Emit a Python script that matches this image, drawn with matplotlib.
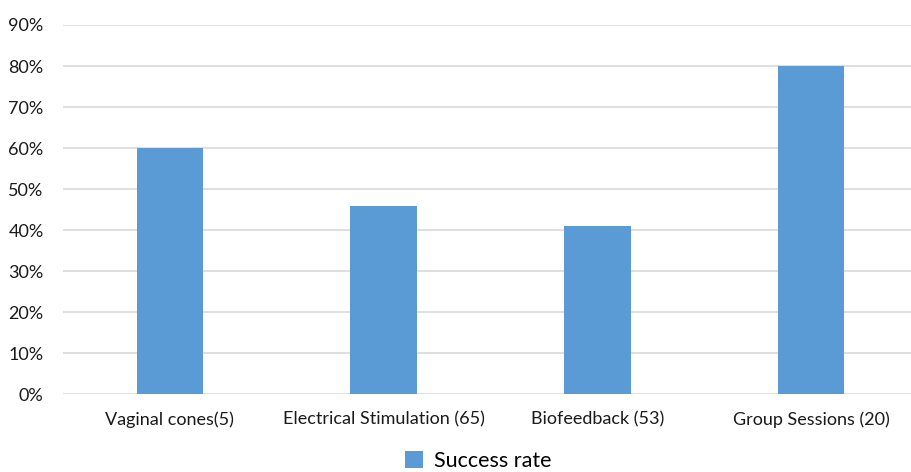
import matplotlib.pyplot as plt
import matplotlib
from matplotlib.ticker import PercentFormatter

# Success rate per treatment (number of patients in brackets)
categories = ["Vaginal cones(5)", "Electrical Stimulation (65)", "Biofeedback (53)", "Group Sessions (20)"]
success_rate = [0.60, 0.46, 0.41, 0.80]
y_ticks = [0.0, 0.1, 0.2, 0.3, 0.4, 0.5, 0.6, 0.7, 0.8, 0.9]

matplotlib.rcParams["font.family"] = ["Lato", "DejaVu Sans"]
BAR_COLOR = "#5B9BD5"
GRID_COLOR = "#D9D9D9"

fig = plt.figure(figsize=(9.11, 4.72), dpi=100)
ax = fig.add_axes([63 / 911, (472 - 394.3) / 472, 855 / 911, 369.3 / 472])

x = range(len(categories))
ax.bar(x, success_rate, width=0.31, color=BAR_COLOR, label="Success rate", zorder=3)

ax.set_xlim(-0.5, len(categories) - 0.5)
ax.set_ylim(0, 0.9)
ax.set_yticks(y_ticks)
ax.yaxis.set_major_formatter(PercentFormatter(1.0, decimals=0))
ax.set_xticks(list(x))
ax.set_xticklabels(categories)

ax.grid(axis="y", color=GRID_COLOR, linewidth=1.2, zorder=0)
for side in ["top", "right", "left", "bottom"]:
    ax.spines[side].set_visible(False)
ax.tick_params(axis="both", length=0, labelsize=13, colors="#1a1a1a")
ax.tick_params(axis="y", pad=14)
ax.tick_params(axis="x", pad=12)

fig.legend(
    loc="center",
    bbox_to_anchor=(478 / 911, 1 - 461 / 472),
    frameon=False,
    fontsize=15.5,
    handlelength=0.85,
    handleheight=0.85,
    handletextpad=0.5,
)

plt.savefig("out.png", dpi=100)
plt.close()
